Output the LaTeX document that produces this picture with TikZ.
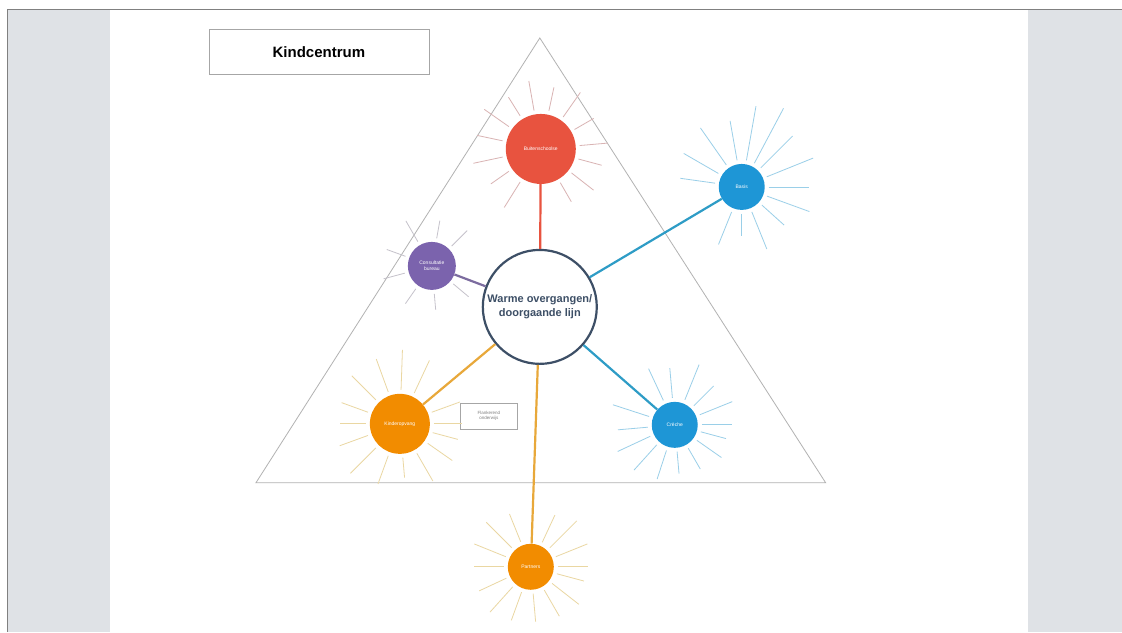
\documentclass[tikz,border=0pt]{standalone}
\usepackage{fontspec}
\setmainfont{Liberation Sans}
\definecolor{pagegray}{HTML}{DFE2E6}
\definecolor{kcred}{HTML}{E8533F}
\definecolor{kcblue}{HTML}{1E96D6}
\definecolor{kcpurple}{HTML}{7B63AD}
\definecolor{kcorange}{HTML}{F28C00}
\definecolor{kcslate}{HTML}{3D4F66}
\definecolor{kcgold}{HTML}{E8A83A}
\definecolor{kcteal}{HTML}{2E9CC6}
\definecolor{raytan}{HTML}{EAD7A2}
\definecolor{raypink}{HTML}{D9B3B3}
\definecolor{raysky}{HTML}{9ACFE8}
\tikzstyle{hub}=[circle, draw=kcslate, line width=2.2pt, fill=white, minimum size=114pt, inner sep=0pt, align=center, text=kcslate, font=\bfseries\fontsize{11}{13.5}\selectfont]
\tikzstyle{partner}=[circle, inner sep=0pt, align=center, text=white, font=\fontsize{5}{6}\selectfont]
\tikzstyle{link}=[line width=2.2pt]
\tikzstyle{ray}=[line width=0.8pt]
\tikzstyle{labelbox}=[draw=gray!70, fill=white, inner sep=0pt]

\begin{document}
\begin{tikzpicture}[x=1pt, y=1pt]
% page
\fill[white] (0,0) rectangle (1122,632);
\fill[pagegray] (7,0) rectangle (1122,623);
\fill[white] (110,0) rectangle (1028,623);
\draw[gray, line width=0.8pt] (7,0) -- (7,623) -- (1122,623);
\useasboundingbox (0,0) rectangle (1122,632);

\draw[gray!60, line width=0.8pt] (540,594) -- (256,149) -- (826,149) -- cycle;
\node[labelbox, minimum width=220pt, minimum height=45pt, font=\bfseries\fontsize{15}{18}\selectfont] (T) at (319,580) {Kindcentrum};

\node[hub] (W) at (540,325) {Warme overgangen/\\doorgaande lijn};
\node[partner, fill=kcred, minimum size=70pt]    (B) at (541,483) {Buitenschoolse};
\node[partner, fill=kcblue, minimum size=46pt]   (S) at (742,445) {Basis};
\node[partner, fill=kcpurple, minimum size=48pt] (C) at (432,366) {Consultatie\\bureau};
\node[partner, fill=kcorange, minimum size=60pt] (K) at (400,208) {Kinderopvang};
\node[partner, fill=kcblue, minimum size=46pt]   (R) at (675,207) {Crèche};
\node[partner, fill=kcorange, minimum size=46pt] (P) at (531,65)  {Partners};
\node[labelbox, minimum width=57pt, minimum height=26pt, align=center, text=gray, font=\fontsize{4.5}{5.5}\selectfont] (F) at (489,216) {Flankerend\\onderwijs};

\draw[link, kcred] (W) -- (B);
\draw[link, kcteal] (W) -- (S);
\draw[link, kcpurple!70!gray] (W) -- (C);
\draw[link, kcgold] (W) -- (K);
\draw[link, kcteal] (W) -- (R);
\draw[link, kcgold] (W) -- (P);

% rays
\foreach \a/\l in {5/28,30/22,55/30,78/24,100/30,122/22,145/30,168/26,192/30,215/22,238/30,300/22,322/28,345/24}
  \draw[ray, raypink] (B) ++(\a:39) -- ++(\a:\l);
\foreach \a/\l in {0/40,22/50,45/45,62/62,80/55,100/40,125/45,150/40,172/35,248/35,270/22,292/40,318/30,340/45}
  \draw[ray, raysky] (S) ++(\a:27) -- ++(\a:\l);
\foreach \a/\l in {45/22,80/18,120/24,160/20,195/22,235/18,275/16,320/20}
  \draw[ray, kcpurple!25!gray!45] (C) ++(\a:28) -- ++(\a:\l);
\foreach \a/\l in {0/28,20/30,65/36,88/40,110/35,135/34,160/28,180/26,200/30,225/36,250/30,275/20,300/32,325/30,345/26}
  \draw[ray, raytan] (K) ++(\a:34) -- ++(\a:\l);
\foreach \a/\l in {0/30,22/35,45/28,68/38,95/30,115/35,162/38,185/30,205/36,228/34,252/30,275/22,300/24,325/30,345/26}
  \draw[ray, raysky] (R) ++(\a:27) -- ++(\a:\l);
\foreach \a/\l in {0/30,22/34,45/38,65/30,112/30,135/36,158/34,180/30,205/30,228/34,250/30,275/28,300/30,322/34,345/28}
  \draw[ray, raytan] (P) ++(\a:27) -- ++(\a:\l);
\end{tikzpicture}
\end{document}
